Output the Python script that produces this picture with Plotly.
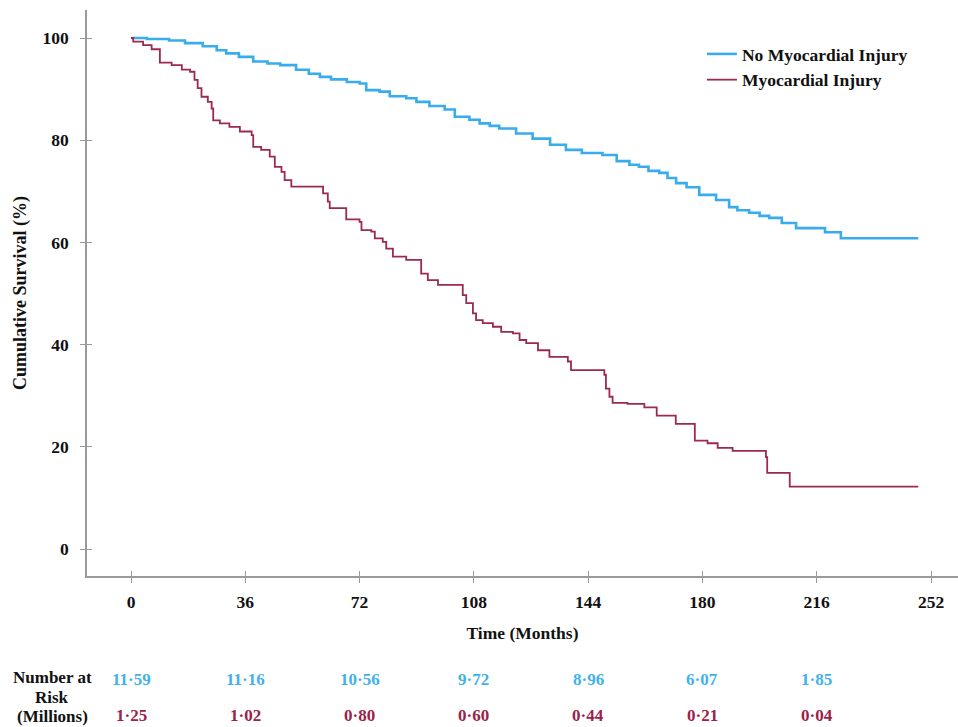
import plotly.graph_objects as go

# ---- data ----
no_injury_time = [0, 5, 12, 17, 22.6, 27, 30, 34, 38.5, 43, 47, 52, 56, 59.5, 63, 68, 72, 74.1,
                  78.3, 81.5, 86.7, 89.9, 94, 98.8, 102, 106.6, 109.8, 113, 116, 121.3, 126.5,
                  132, 137, 142, 148.5, 153, 157, 160, 163, 166.4, 169, 171.7, 175, 179, 184.3,
                  188.4, 191, 194.7, 198, 201, 205, 209.5, 218.6, 223.6, 248]
no_injury_surv = [100, 99.8, 99.5, 99.0, 98.4, 97.6, 97.0, 96.3, 95.4, 95.0, 94.7, 93.8, 93.0, 92.4,
                  91.9, 91.4, 91.1, 89.8, 89.5, 88.6, 88.2, 87.5, 86.7, 86.0, 84.6, 84.0, 83.3,
                  82.8, 82.3, 81.3, 80.3, 79.1, 78.1, 77.5, 77.1, 75.9, 75.2, 74.8, 74.0, 73.6,
                  72.6, 71.6, 70.8, 69.3, 68.3, 66.9, 66.3, 65.8, 65.2, 64.8, 63.8, 62.8, 62.0,
                  60.8, 60.8]

injury_time = [0, 0.7, 3.8, 6.5, 9.1, 12.8, 16, 18.6, 20, 21, 22.2, 24.2, 25.4, 25.9, 28, 31, 34.3,
               38, 38.5, 41, 43.7, 45.3, 47.4, 48.4, 50.5, 60.5, 62, 62.6, 67.8, 72, 72.6, 75.7,
               76.8, 79.3, 80.4, 82.5, 86.7, 91.4, 93.5, 96.7, 104.5, 105.6, 107.7, 108.7, 110.8,
               114, 116.6, 120.3, 122.4, 124.5, 128.2, 131.8, 137.6, 138.6, 149.1, 149.6, 150.7,
               151.7, 156.4, 161.7, 165.6, 171.6, 177.6, 181.6, 184.8, 189.5, 200, 200.4, 207.5, 248]
injury_surv = [100, 99.3, 98.6, 97.8, 95.2, 94.7, 93.8, 93.4, 91.8, 90.2, 88.5, 87.5, 86.2, 83.9,
               83.3, 82.6, 81.7, 81.0, 78.7, 78.1, 76.8, 74.8, 73.8, 72.2, 70.9, 69.6, 68.0, 66.7,
               64.5, 64.0, 62.4, 62.1, 60.8, 60.1, 58.8, 57.2, 56.6, 53.9, 52.6, 51.7, 49.7, 48.1,
               46.1, 44.8, 44.2, 43.5, 42.5, 42.2, 40.9, 40.3, 38.9, 37.6, 36.7, 35.0, 34.1, 31.4,
               29.8, 28.6, 28.4, 27.7, 26.1, 24.5, 21.2, 20.7, 19.8, 19.2, 18.0, 14.9, 12.2, 12.2]

x_ticks = [0, 36, 72, 108, 144, 180, 216, 252]
y_ticks = [0, 20, 40, 60, 80, 100]
risk_times = [0, 36, 72, 108, 144, 180, 216]
risk_no_injury = ["11·59", "11·16", "10·56", "9·72", "8·96", "6·07", "1·85"]
risk_injury = ["1·25", "1·02", "0·80", "0·60", "0·44", "0·21", "0·04"]
risk_label_lines = ["Number at", "Risk", "(Millions)"]

BLUE = "#38ACEC"
RED = "#9A2A50"
BLUE_TXT = "#3FB2EA"
RED_TXT = "#9B2248"
AXIS = "#9a9a9a"
FONT = "Liberation Serif"

fig = go.Figure()
fig.add_trace(go.Scatter(x=no_injury_time, y=no_injury_surv, mode="lines", line_shape="hv",
                         line=dict(color=BLUE, width=2.6), name="No Myocardial Injury"))
fig.add_trace(go.Scatter(x=injury_time, y=injury_surv, mode="lines", line_shape="hv",
                         line=dict(color=RED, width=1.8), name="Myocardial Injury"))
# invisible trace to host the overlay axes (inside half of crossing ticks)
fig.add_trace(go.Scatter(x=[None], y=[None], xaxis="x2", yaxis="y2", showlegend=False,
                         hoverinfo="skip"))

xr = [-13.86, 260.5]
yr = [-5.28, 105.48]
tf = dict(family=FONT, size=17.5, color="#111", weight="bold")

fig.update_layout(
    width=958, height=727,
    margin=dict(l=87, r=0, t=10, b=151),
    paper_bgcolor="white", plot_bgcolor="white",
    font=dict(family=FONT, color="#111"),
    xaxis=dict(range=xr, tickvals=x_ticks, ticks="outside", ticklen=5, tickcolor=AXIS,
               showline=True, linecolor=AXIS, linewidth=1.5, showgrid=False, zeroline=False,
               tickfont=tf, ticklabelstandoff=4,
               title=dict(text="Time (Months)", font=dict(family=FONT, size=17.5, weight="bold"),
                          standoff=16)),
    yaxis=dict(range=yr, tickvals=y_ticks, ticks="outside", ticklen=5, tickcolor=AXIS,
               showline=True, linecolor=AXIS, linewidth=1.5, showgrid=False, zeroline=False,
               tickfont=tf, ticklabelstandoff=8,
               title=dict(text="Cumulative Survival (%)",
                          font=dict(family=FONT, size=18, weight="bold"), standoff=11)),
    xaxis2=dict(range=xr, tickvals=x_ticks, ticks="inside", ticklen=5, tickcolor=AXIS,
                overlaying="x", anchor="y", showticklabels=False, showline=False,
                showgrid=False, zeroline=False),
    yaxis2=dict(range=yr, tickvals=y_ticks, ticks="inside", ticklen=5, tickcolor=AXIS,
                overlaying="y", anchor="x", showticklabels=False, showline=False,
                showgrid=False, zeroline=False),
    legend=dict(x=0.706, y=0.954, xanchor="left", yanchor="top", bgcolor="rgba(0,0,0,0)",
                font=dict(family=FONT, size=17.5, color="#111", weight="bold"),
                tracegroupgap=0, itemwidth=30),
    showlegend=True,
)

# Number at risk table
for i, line in enumerate(risk_label_lines):
    fig.add_annotation(text=line, xref="paper", yref="paper",
                       x=-0.04, y=-0.1802 - i * 0.0336, xanchor="center", yanchor="middle",
                       showarrow=False,
                       font=dict(family=FONT, size=17, color="#111", weight="bold"))
for t, b, r in zip(risk_times, risk_no_injury, risk_injury):
    fig.add_annotation(text=b, x=t, xref="x", y=-0.1837, yref="paper", showarrow=False,
                       xanchor="center", yanchor="middle",
                       font=dict(family=FONT, size=17, color=BLUE_TXT, weight="bold"))
    fig.add_annotation(text=r, x=t, xref="x", y=-0.2473, yref="paper", showarrow=False,
                       xanchor="center", yanchor="middle",
                       font=dict(family=FONT, size=17, color=RED_TXT, weight="bold"))

fig.write_html("out.html", config={"displayModeBar": False},
               post_script="document.body.style.margin='0';")
